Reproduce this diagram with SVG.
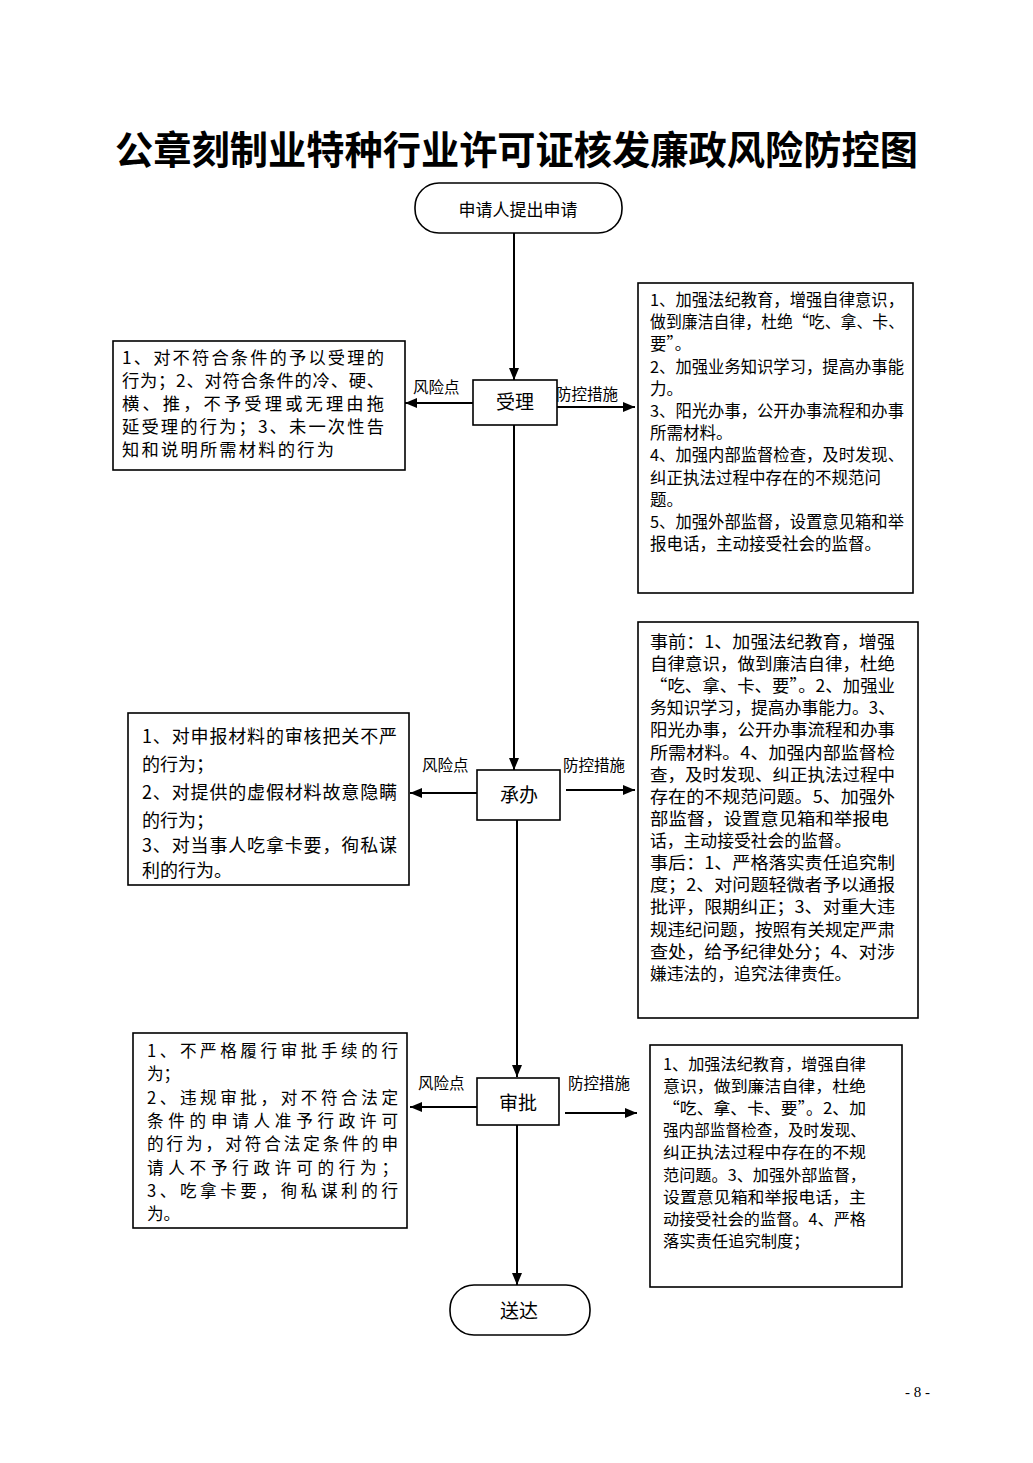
<svg xmlns="http://www.w3.org/2000/svg" width="1033" height="1463" viewBox="0 0 1033 1463">
<style>
.t{font-family:"Noto Sans CJK SC","Noto Sans",sans-serif;fill:#000}
.title{font-size:39px;font-weight:700}
.node{font-size:19px}
.lbl{font-size:15.5px}
.r{font-size:16.5px}
.r2{font-size:16.8px}
.r3{font-size:16.3px}
.l1{font-size:17.3px}
.l2{font-size:18px}
.l3{font-size:16.6px}
.box{fill:#fff;stroke:#000;stroke-width:1.6}
.conn{stroke:#000;stroke-width:2;fill:none}
.pg{font-family:"Liberation Serif",serif;font-size:15px;fill:#000}
</style>
<defs>
<marker id="ah" viewBox="0 0 12 10" refX="12" refY="5" markerWidth="12" markerHeight="10" markerUnits="userSpaceOnUse" orient="auto"><path d="M0,0 L12,5 L0,10 z" fill="#000"/></marker>
</defs>
<rect width="1033" height="1463" fill="#fff"/>
<text class="t title" x="115" y="164" textLength="803" lengthAdjust="spacingAndGlyphs">公章刻制业特种行业许可证核发廉政风险防控图</text>

<g id="connectors">
<path class="conn" d="M514,233 V380" marker-end="url(#ah)"/>
<path class="conn" d="M514,425 V770" marker-end="url(#ah)"/>
<path class="conn" d="M517,820 V1077" marker-end="url(#ah)"/>
<path class="conn" d="M517,1125 V1285" marker-end="url(#ah)"/>
<path class="conn" d="M473,403 H405" marker-end="url(#ah)"/>
<path class="conn" d="M557,407 H635" marker-end="url(#ah)"/>
<path class="conn" d="M477,793 H410" marker-end="url(#ah)"/>
<path class="conn" d="M566,790 H635" marker-end="url(#ah)"/>
<path class="conn" d="M477,1107 H410" marker-end="url(#ah)"/>
<path class="conn" d="M565,1113 H637" marker-end="url(#ah)"/>
<text class="t lbl" x="413" y="393">风险点</text>
<text class="t lbl" x="556" y="400">防控措施</text>
<text class="t lbl" x="422" y="771">风险点</text>
<text class="t lbl" x="563" y="771">防控措施</text>
<text class="t lbl" x="418" y="1089">风险点</text>
<text class="t lbl" x="568" y="1089">防控措施</text>
</g>

<g id="start">
<rect class="box" x="415" y="183" width="207" height="50" rx="24" ry="24"/>
<text class="t" style="font-size:17px" x="518" y="216" text-anchor="middle">申请人提出申请</text>
</g>

<g id="shouli">
<rect class="box" x="473" y="380" width="84" height="45"/>
<text class="t node" x="515" y="409" text-anchor="middle">受理</text>
</g>

<g id="chengban">
<rect class="box" x="477" y="770" width="83" height="50"/>
<text class="t node" x="519" y="802" text-anchor="middle">承办</text>
</g>

<g id="shenpi">
<rect class="box" x="477" y="1078" width="82" height="47"/>
<text class="t node" x="518" y="1110" text-anchor="middle">审批</text>
</g>

<g id="songda">
<rect class="box" x="450" y="1285" width="140" height="50" rx="24" ry="24"/>
<text class="t node" x="519" y="1318" text-anchor="middle">送达</text>
</g>

<g id="risk1">
<rect class="box" x="113" y="341" width="292" height="129"/>
<text class="t l1" x="122" y="364" textLength="262" lengthAdjust="spacing">1、对不符合条件的予以受理的</text>
<text class="t l1" x="122" y="387" textLength="262" lengthAdjust="spacing">行为；2、对符合条件的冷、硬、</text>
<text class="t l1" x="122" y="410" textLength="262" lengthAdjust="spacing">横、推，不予受理或无理由拖</text>
<text class="t l1" x="122" y="433" textLength="262" lengthAdjust="spacing">延受理的行为；3、未一次性告</text>
<text class="t l1" x="122" y="456" textLength="212" lengthAdjust="spacing">知和说明所需材料的行为</text>
</g>

<g id="measure1">
<rect class="box" x="638" y="283" width="275" height="310"/>
<text class="t r" x="650" y="306" textLength="254" lengthAdjust="spacingAndGlyphs">1、加强法纪教育，增强自律意识，</text>
<text class="t r" x="650" y="328" textLength="254" lengthAdjust="spacingAndGlyphs">做到廉洁自律，杜绝“吃、拿、卡、</text>
<text class="t r" x="650" y="350">要”。</text>
<text class="t r" x="650" y="373" textLength="254" lengthAdjust="spacingAndGlyphs">2、加强业务知识学习，提高办事能</text>
<text class="t r" x="650" y="395">力。</text>
<text class="t r" x="650" y="417" textLength="254" lengthAdjust="spacingAndGlyphs">3、阳光办事，公开办事流程和办事</text>
<text class="t r" x="650" y="439">所需材料。</text>
<text class="t r" x="650" y="461" textLength="254" lengthAdjust="spacingAndGlyphs">4、加强内部监督检查，及时发现、</text>
<text class="t r" x="650" y="484">纠正执法过程中存在的不规范问</text>
<text class="t r" x="650" y="506">题。</text>
<text class="t r" x="650" y="528" textLength="254" lengthAdjust="spacingAndGlyphs">5、加强外部监督，设置意见箱和举</text>
<text class="t r" x="650" y="550">报电话，主动接受社会的监督。</text>
</g>

<g id="risk2">
<rect class="box" x="128" y="713" width="281" height="172"/>
<text class="t l2" x="142" y="743" textLength="255" lengthAdjust="spacing">1、对申报材料的审核把关不严</text>
<text class="t l2" x="142" y="771">的行为；</text>
<text class="t l2" x="142" y="799" textLength="255" lengthAdjust="spacing">2、对提供的虚假材料故意隐瞒</text>
<text class="t l2" x="142" y="827">的行为；</text>
<text class="t l2" x="142" y="852" textLength="255" lengthAdjust="spacing">3、对当事人吃拿卡要，徇私谋</text>
<text class="t l2" x="142" y="877">利的行为。</text>
</g>

<g id="measure2">
<rect class="box" x="638" y="622" width="280" height="396"/>
<text class="t r2" x="650" y="648" textLength="245" lengthAdjust="spacingAndGlyphs">事前：1、加强法纪教育，增强</text>
<text class="t r2" x="650" y="670" textLength="245" lengthAdjust="spacingAndGlyphs">自律意识，做到廉洁自律，杜绝</text>
<text class="t r2" x="650" y="692" textLength="245" lengthAdjust="spacingAndGlyphs">“吃、拿、卡、要”。2、加强业</text>
<text class="t r2" x="650" y="714" textLength="245" lengthAdjust="spacingAndGlyphs">务知识学习，提高办事能力。3、</text>
<text class="t r2" x="650" y="736" textLength="245" lengthAdjust="spacingAndGlyphs">阳光办事，公开办事流程和办事</text>
<text class="t r2" x="650" y="759" textLength="245" lengthAdjust="spacingAndGlyphs">所需材料。4、加强内部监督检</text>
<text class="t r2" x="650" y="781" textLength="245" lengthAdjust="spacingAndGlyphs">查，及时发现、纠正执法过程中</text>
<text class="t r2" x="650" y="803" textLength="245" lengthAdjust="spacingAndGlyphs">存在的不规范问题。5、加强外</text>
<text class="t r2" x="650" y="825" textLength="239" lengthAdjust="spacingAndGlyphs">部监督，设置意见箱和举报电</text>
<text class="t r2" x="650" y="847">话，主动接受社会的监督。</text>
<text class="t r2" x="650" y="869" textLength="245" lengthAdjust="spacingAndGlyphs">事后：1、严格落实责任追究制</text>
<text class="t r2" x="650" y="891" textLength="245" lengthAdjust="spacingAndGlyphs">度；2、对问题轻微者予以通报</text>
<text class="t r2" x="650" y="913" textLength="245" lengthAdjust="spacingAndGlyphs">批评，限期纠正；3、对重大违</text>
<text class="t r2" x="650" y="936" textLength="245" lengthAdjust="spacingAndGlyphs">规违纪问题，按照有关规定严肃</text>
<text class="t r2" x="650" y="958" textLength="245" lengthAdjust="spacingAndGlyphs">查处，给予纪律处分；4、对涉</text>
<text class="t r2" x="650" y="980">嫌违法的，追究法律责任。</text>
</g>

<g id="risk3">
<rect class="box" x="133" y="1033" width="274" height="195"/>
<text class="t l3" x="147" y="1057" textLength="251" lengthAdjust="spacing">1、不严格履行审批手续的行</text>
<text class="t l3" x="147" y="1080">为；</text>
<text class="t l3" x="147" y="1104" textLength="251" lengthAdjust="spacing">2、违规审批，对不符合法定</text>
<text class="t l3" x="147" y="1127" textLength="251" lengthAdjust="spacing">条件的申请人准予行政许可</text>
<text class="t l3" x="147" y="1150" textLength="251" lengthAdjust="spacing">的行为，对符合法定条件的申</text>
<text class="t l3" x="147" y="1174" textLength="251" lengthAdjust="spacing">请人不予行政许可的行为；</text>
<text class="t l3" x="147" y="1197" textLength="251" lengthAdjust="spacing">3、吃拿卡要，徇私谋利的行</text>
<text class="t l3" x="147" y="1220">为。</text>
</g>

<g id="measure3">
<rect class="box" x="650" y="1045" width="252" height="242"/>
<text class="t r3" x="663" y="1070" textLength="203" lengthAdjust="spacingAndGlyphs">1、加强法纪教育，增强自律</text>
<text class="t r3" x="663" y="1092" textLength="203" lengthAdjust="spacingAndGlyphs">意识，做到廉洁自律，杜绝</text>
<text class="t r3" x="663" y="1114" textLength="203" lengthAdjust="spacingAndGlyphs">“吃、拿、卡、要”。2、加</text>
<text class="t r3" x="663" y="1136" textLength="203" lengthAdjust="spacingAndGlyphs">强内部监督检查，及时发现、</text>
<text class="t r3" x="663" y="1158" textLength="203" lengthAdjust="spacingAndGlyphs">纠正执法过程中存在的不规</text>
<text class="t r3" x="663" y="1181" textLength="203" lengthAdjust="spacingAndGlyphs">范问题。3、加强外部监督，</text>
<text class="t r3" x="663" y="1203" textLength="203" lengthAdjust="spacingAndGlyphs">设置意见箱和举报电话，主</text>
<text class="t r3" x="663" y="1225" textLength="203" lengthAdjust="spacingAndGlyphs">动接受社会的监督。4、严格</text>
<text class="t r3" x="663" y="1247">落实责任追究制度；</text>
</g>

<text class="pg" x="905" y="1397">- 8 -</text>
</svg>
